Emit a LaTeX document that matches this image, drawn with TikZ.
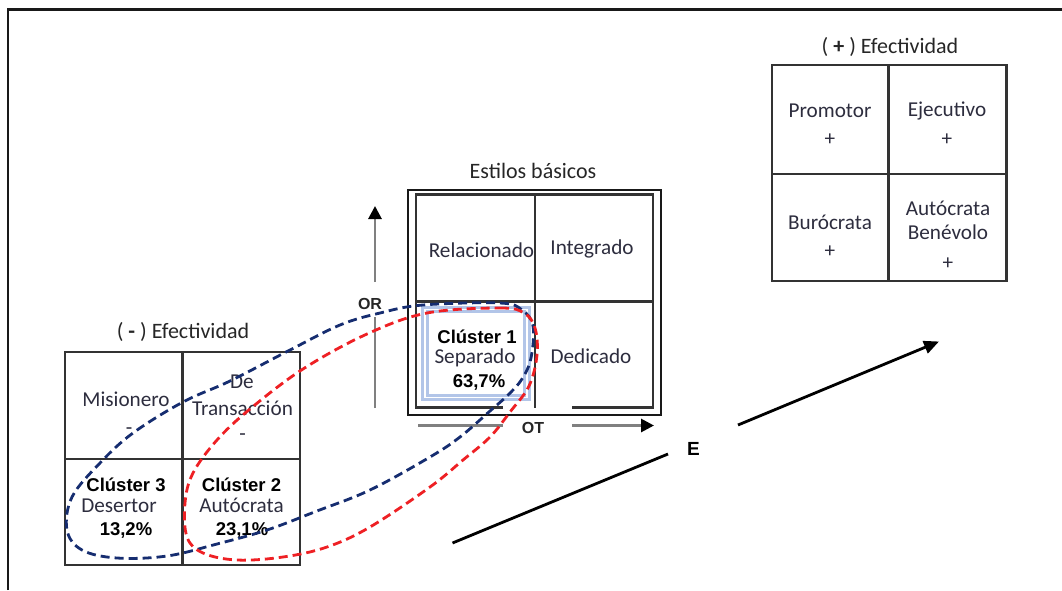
\documentclass[tikz,border=0pt]{standalone}
\usepackage{fontspec}
\setmainfont{Carlito}
\newfontfamily\arialfont{Liberation Sans}
\usetikzlibrary{arrows.meta}

\definecolor{txt}{RGB}{45,45,62}
\definecolor{navy}{RGB}{22,45,112}
\definecolor{dred}{RGB}{238,32,36}
\definecolor{axisgray}{RGB}{128,128,128}
\definecolor{clbox}{RGB}{178,197,232}

\begin{document}
\begin{tikzpicture}[x=1pt,y=-1pt,
  lbl/.style={font=\fontsize{21.2}{23}\selectfont, text=txt, inner sep=0pt, anchor=center},
  ttl/.style={font=\fontsize{22}{24}\selectfont, text=black!85, inner sep=0pt},
  bld/.style={font=\arialfont\bfseries\fontsize{18.5}{20}\selectfont, inner sep=0pt},
  axlbl/.style={font=\arialfont\bfseries\fontsize{16}{18}\selectfont, inner sep=0pt, text=black!85},
  grid/.style={draw=black!80, line width=2.2pt},
  axis/.style={draw=axisgray, line width=2.8pt, -{Triangle[length=13pt,width=13pt,black]}},
  axplain/.style={draw=axisgray, line width=2.8pt},
  ebar/.style={draw=black, line width=2.8pt},
  loopline/.style={line width=2.8pt, dash pattern=on 9pt off 5pt},
]
\useasboundingbox (0,0) rectangle (1062,590);

% frame lines along the top and left edges
\draw[line width=2.4pt, black!90] (8,590) -- (8,9.5) -- (1062,9.5);

% ---------- (+) Efectividad matrix ----------
\node[ttl] (ttlplus) at (890,46.5) {( \textbf{+} ) Efectividad};
\draw[grid] (772,65) rectangle (1006.5,281);
\draw[grid] (888.5,65) -- (888.5,281);
\draw[grid] (772,174) -- (1006.5,174);
\node[lbl] (promotor) at (830,110.5) {Promotor};
\node[lbl] (promotorp) at (830,140) {+};
\node[lbl] (ejecutivo) at (947,110.5) {Ejecutivo};
\node[lbl] (ejecutivop) at (947,140) {+};
\node[lbl] (burocrata) at (830,222.5) {Burócrata};
\node[lbl] (burocratap) at (830,252) {+};
\node[lbl] (autob1) at (948,208) {Autócrata};
\node[lbl] (autob2) at (948,232) {Benévolo};
\node[lbl] (autobp) at (948,264) {+};

% ---------- Estilos básicos matrix ----------
\node[ttl] (ttlbasic) at (533,171) {Estilos básicos};
\draw[line width=2pt, black!90] (407.5,189.5) rectangle (661,414.5);
\draw[grid] (503,407.5) -- (416,407.5) -- (416,194.5) -- (653,194.5) -- (653,407.5) -- (572,407.5);
\draw[grid] (535,194.5) -- (535,407.5);
\draw[grid] (416,301.5) -- (653,301.5);
\node[lbl] (relacionado) at (481.5,250) {Relacionado};
\node[lbl] (integrado) at (592,249) {Integrado};
\node[lbl] (dedicado) at (591,356.5) {Dedicado};
\node[draw=clbox, line width=3pt, double=white, double distance=1.4pt,
      minimum width=102pt, minimum height=88pt, inner sep=0pt] (c1box) at (476,353.5) {};
\node[bld] (c1name) at (477,337) {Clúster 1};
\node[lbl] (c1style) at (475,358) {Separado};
\node[bld] (c1pct) at (479,382) {63,7\%};

% orientation axes
\coordinate (orlow) at (375,408);
\coordinate (orlowend) at (375,317);
\coordinate (orhigh) at (375,282);
\coordinate (ortip) at (375,206);
\draw[axplain] (orlow) -- (orlowend);
\draw[axis] (orhigh) -- (ortip);
\node[axlbl] (orlbl) at (370,303.5) {OR};
\coordinate (otleft) at (418,425.5);
\coordinate (otleftend) at (503,425.5);
\coordinate (otright) at (572,425.5);
\coordinate (ottip) at (654,425.5);
\draw[axplain] (otleft) -- (otleftend);
\draw[axis] (otright) -- (ottip);
\node[axlbl] (otlbl) at (533,428) {OT};

% ---------- (-) Efectividad matrix ----------
\node[ttl] (ttlminus) at (183,332) {( \textbf{-} ) Efectividad};
\draw[grid] (65,352) rectangle (300,565);
\draw[grid] (182.5,352) -- (182.5,565);
\draw[grid] (65,459) -- (300,459);
\node[lbl] (misionero) at (126,399) {Misionero};
\node[lbl] (misionerom) at (129,431) {-};
\node[lbl] (detr1) at (242,382) {De};
\node[lbl] (detr2) at (242.5,408) {Transacción};
\node[lbl] (detrm) at (242.5,437) {-};
\node[bld] (c3name) at (126,485) {Clúster 3};
\node[lbl] (c3style) at (119,505.5) {Desertor};
\node[bld] (c3pct) at (126,530.5) {13,2\%};
\node[bld] (c2name) at (241.5,485) {Clúster 2};
\node[lbl] (c2style) at (241.5,505.5) {Autócrata};
\node[bld] (c2pct) at (242,530.5) {23,1\%};

% ---------- effectiveness arrow E ----------
\coordinate (elow) at (452.5,543);
\coordinate (elowend) at (668,454);
\coordinate (ehigh) at (738,425);
\coordinate (etip) at (939,341.5);
\draw[ebar] (elow) -- (elowend);
\draw[ebar, -{Triangle[length=15pt,width=13pt]}] (ehigh) -- (etip);
\node[font=\arialfont\bfseries\fontsize{19}{21}\selectfont, inner sep=0pt] (elbl) at (693.5,448.5) {E};

% ---------- cluster groupings ----------
\draw[navy, loopline] plot[smooth cycle, tension=0.6] coordinates {
  (423,305) (500,303) (522,310) (533,326) (531,358) (522,379) (508,395)
  (490,411) (460,437) (430,457) (370,490) (317,511) (267,530) (217,544)
  (167,556) (117,558) (82,550) (67,530) (72,497) (100,463) (133,433)
  (183,402) (230,381) (290,350) (340,325) (380,313)};
\draw[dred, loopline] plot[smooth cycle, tension=0.6] coordinates {
  (427,313) (500,308) (524,313) (535,328) (537,355) (529,386) (510,412)
  (490,437) (463,460) (430,487) (370,527) (327,547) (283,557) (237,560)
  (203,553) (187,537) (185,503) (193,473) (217,440) (250,409) (303,369)
  (367,334)};
\end{tikzpicture}
\end{document}
